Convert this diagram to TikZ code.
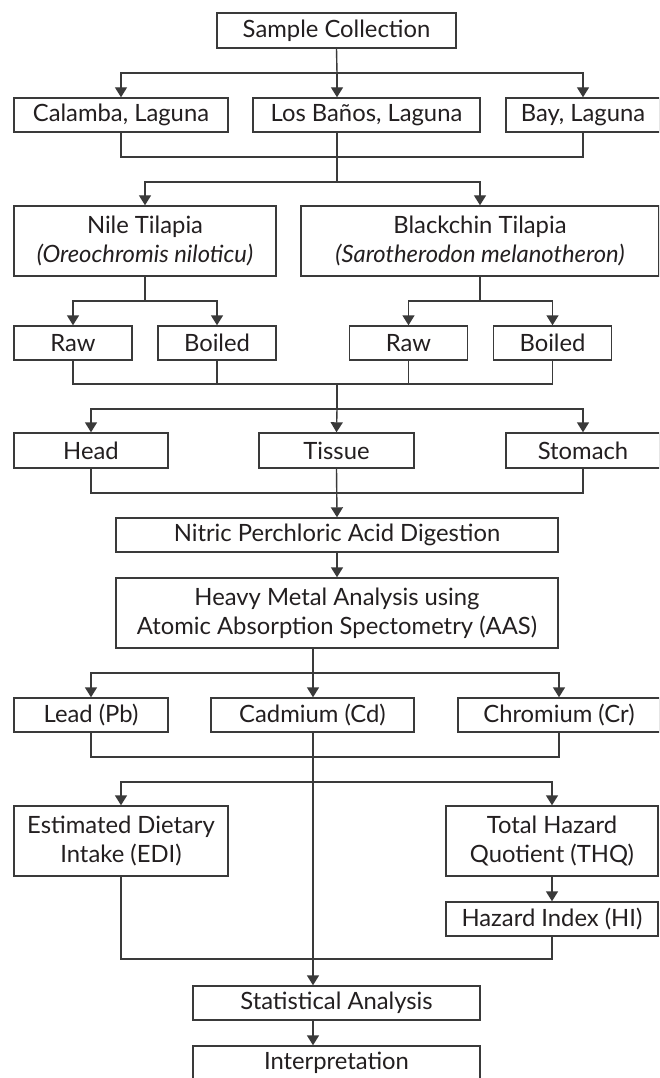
\documentclass[tikz,border=0pt]{standalone}
\usepackage{fontspec}
\setmainfont{Lato}
\usetikzlibrary{arrows.meta}
\definecolor{ln}{HTML}{3A3A3A}
\definecolor{tx}{HTML}{231F20}
\tikzset{
  box/.style={draw=ln, line width=1.4pt, fill=white, inner sep=0pt, align=center,
    text=tx, font=\fontsize{23.8}{29}\selectfont},
  conn/.style={draw=ln, line width=1.4pt},
  arr/.style={conn, -{Triangle[width=12pt,length=10pt]}}
}
\begin{document}
\begin{tikzpicture}[x=1pt,y=-1pt]
\useasboundingbox (0,0) rectangle (659,1078);
\clip (0,0) rectangle (659,1078);
\fill[white] (0,0) rectangle (659,1078);
% nodes
\node[box, minimum width=239pt, minimum height=35pt] (sc) at (336.5,30.5) {Sample Collection};
\node[box, minimum width=214pt, minimum height=34pt] (cal) at (121,115) {Calamba, Laguna};
\node[box, minimum width=227pt, minimum height=34pt] (lb) at (366.5,115) {Los Baños, Laguna};
\node[box, minimum width=154pt, minimum height=34pt] (bay) at (583,115) {Bay, Laguna};
\node[box, minimum width=262pt, minimum height=70pt] (nile) at (145,241) {Nile Tilapia\\\textit{(Oreochromis niloticu)}};
\node[box, minimum width=358pt, minimum height=70pt] (black) at (480,241) {Blackchin Tilapia\\\textit{(Sarotherodon melanotheron)}};
\node[box, minimum width=118pt, minimum height=34pt] (raw1) at (73,343) {Raw};
\node[box, minimum width=118pt, minimum height=34pt] (boil1) at (217,343) {Boiled};
\node[box, minimum width=118pt, minimum height=34pt] (raw2) at (408.5,343) {Raw};
\node[box, minimum width=118pt, minimum height=34pt] (boil2) at (552.5,343) {Boiled};
\node[box, minimum width=154pt, minimum height=35pt] (head) at (91,450.5) {Head};
\node[box, minimum width=155pt, minimum height=35pt] (tissue) at (336.5,450.5) {Tissue};
\node[box, minimum width=154pt, minimum height=35pt] (stom) at (583,450.5) {Stomach};
\node[box, minimum width=442pt, minimum height=34pt] (nit) at (337,535) {Nitric Perchloric Acid Digestion};
\node[box, minimum width=442pt, minimum height=70pt] (hm) at (337,613) {Heavy Metal Analysis using\\Atomic Absorption Spectometry (AAS)};
\node[box, minimum width=154pt, minimum height=34pt] (lead) at (91,715) {Lead (Pb)};
\node[box, minimum width=203pt, minimum height=34pt] (cad) at (312.5,715) {Cadmium (Cd)};
\node[box, minimum width=202pt, minimum height=34pt] (chr) at (559,715) {Chromium (Cr)};
\node[box, minimum width=214pt, minimum height=70pt] (edi) at (121,841) {Estimated Dietary\\Intake (EDI)};
\node[box, minimum width=212pt, minimum height=70pt] (thq) at (552,841) {Total Hazard\\Quotient (THQ)};
\node[box, minimum width=212pt, minimum height=34pt] (hi) at (552,919) {Hazard Index (HI)};
\node[box, minimum width=287pt, minimum height=34pt] (stat) at (336.5,1003) {Statistical Analysis};
\node[box, minimum width=287pt, minimum height=34pt] (interp) at (336.5,1063) {Interpretation};
% junction coordinates
\coordinate (j1) at (337,73);
\coordinate (j2) at (337,157);
\coordinate (j3) at (337,182);
\coordinate (j4) at (145,301);
\coordinate (j5) at (480,301);
\coordinate (j6) at (337,384);
\coordinate (j7) at (337,409);
\coordinate (j8) at (337,493);
\coordinate (j9) at (313,673);
\coordinate (j10) at (313,757);
\coordinate (j11) at (313,782);
\coordinate (j12) at (313,959);
% level 1
\draw[conn] (sc.south) -- (j1);
\draw[arr] (j1) -| (cal.north);
\draw[arr] (j1) -| (bay.north);
\draw[arr] (j1) -- (j1 |- lb.north);
% level 2
\draw[conn] (cal.south) |- (j2) -| (bay.south);
\draw[conn] (j2 |- lb.south) -- (j3);
\draw[arr] (j3) -| (nile.north);
\draw[arr] (j3) -| (black.north);
% level 3
\draw[conn] (nile.south) -- (j4);
\draw[arr] (j4) -| (raw1.north);
\draw[arr] (j4) -| (boil1.north);
\draw[conn] (black.south) -- (j5);
\draw[arr] (j5) -| (raw2.north);
\draw[arr] (j5) -| (boil2.north);
% level 4
\draw[conn] (raw1.south) |- (j6) -| (boil2.south);
\draw[conn] (boil1.south) -- (boil1.south |- j6);
\draw[conn] (raw2.south) -- (raw2.south |- j6);
\draw[conn] (j6) -- (j7);
\draw[arr] (j7) -| (head.north);
\draw[arr] (j7) -| (stom.north);
\draw[arr] (j7) -- (tissue.north);
% level 5
\draw[conn] (head.south) |- (j8) -| (stom.south);
\draw[arr] (tissue.south) -- (nit.north);
\draw[arr] (nit.south) -- (hm.north);
% level 6
\draw[conn] (j9 |- hm.south) -- (j9);
\draw[arr] (j9) -| (lead.north);
\draw[arr] (j9) -| (chr.north);
\draw[arr] (j9) -- (j9 |- cad.north);
% level 7
\draw[conn] (lead.south) |- (j10) -| (chr.south);
\draw[arr] (j9 |- cad.south) -- (j9 |- stat.north);
\draw[arr] (j11) -| (edi.north);
\draw[arr] (j11) -| (thq.north);
\draw[arr] (thq.south) -- (hi.north);
\draw[conn] (edi.south) |- (j12) -| (hi.south);
\draw[arr] (j9 |- stat.south) -- (j9 |- interp.north);
\end{tikzpicture}
\end{document}
